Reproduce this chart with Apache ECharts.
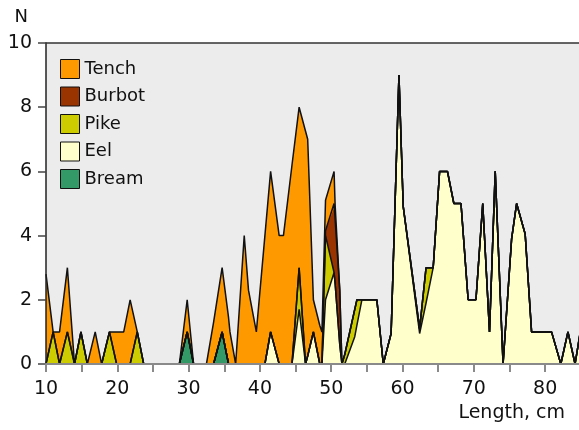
<!DOCTYPE html>
<html>
<head>
<meta charset="utf-8">
<script src="https://cdn.jsdelivr.net/npm/echarts@6/dist/echarts.min.js"></script>
<style>
  html, body { margin: 0; padding: 0; background: #ffffff; }
  #chart { width: 579px; height: 430px; }
</style>
</head>
<body>
<div id="chart"></div>
<script>
// Length classes (cm) shared by every species so the areas stack point by point
const lengths = [10, 11, 11.9, 13, 14, 14.9, 15.8, 16.9, 17.8, 18.9,
  19.9, 20.9, 21.8, 22.8, 23.7, 28.7, 29.8, 30.7, 32.5, 33.5,
  34.7, 35.6, 35.8, 36.6, 37.8, 38.4, 39.5, 40.7, 41.5, 42.7,
  43.3, 44.5, 45.5, 46.4, 46.7, 47.5, 48.4, 48.7, 49.2, 50.4,
  50.55, 51.2, 51.5, 51.9, 53.3, 53.6, 54.3, 56.4, 57.3, 58.4,
  59.5, 60.1, 62.4, 63.3, 64.3, 65.2, 66.3, 67.2, 68.2, 69.2,
  70.3, 71.25, 72.2, 73.0, 74.1, 75.3, 76.0, 77.2, 78.1, 80.9,
  82.2, 83.2, 84.2, 85.0];

// Number of fish (N) per length class, one array per species
const bream = [0, 0, 0, 0, 0, 0, 0, 0, 0, 0,
  0, 0, 0, 0, 0, 0, 1, 0, 0, 0,
  1, 0, 0, 0, 0, 0, 0, 0, 0, 0,
  0, 0, 0, 0, 0, 0, 0, 0, 0, 0,
  0, 0, 0, 0, 0, 0, 0, 0, 0, 0,
  0, 0, 0, 0, 0, 0, 0, 0, 0, 0,
  0, 0, 0, 0, 0, 0, 0, 0, 0, 0,
  0, 0, 0, 0];

const eel = [0, 0, 0, 0, 0, 0, 0, 0, 0, 0,
  0, 0, 0, 0, 0, 0, 0, 0, 0, 0,
  0, 0, 0, 0, 0, 0, 0, 0, 1, 0,
  0, 0, 1.7, 0, 0.25, 1, 0, 0, 2.0, 2.85,
  2.5, 0.6, 0, 0, 0.85, 1.2, 2, 2, 0, 0.95,
  9, 4.9, 0.95, 1.9, 3, 6, 6, 5, 5, 2,
  2, 5, 1, 6, 0, 3.9, 5, 4.05, 1, 1,
  0, 1, 0, 1.1];

const pike = [0, 1, 0, 1, 0, 1, 0, 0, 0, 1,
  0, 0, 0, 1, 0, 0, 0, 0, 0, 0,
  0, 0, 0, 0, 0, 0, 0, 0, 0, 0,
  0, 0, 1.3, 0, 0, 0, 0, 0, 2.0, 0,
  0, 0, 0, 0.3, 0.85, 0.8, 0, 0, 0, 0,
  0, 0, 0.15, 1.1, 0, 0, 0, 0, 0, 0,
  0, 0, 0, 0, 0, 0, 0, 0, 0, 0,
  0, 0, 0, 0];

const burbot = [0, 0, 0, 0, 0, 0, 0, 0, 0, 0,
  0, 0, 0, 0, 0, 0, 0, 0, 0, 0,
  0, 0, 0, 0, 0, 0, 0, 0, 0, 0,
  0, 0, 0, 0, 0, 0, 0, 0, 0.15, 2.15,
  2.45, 1.7, 0, 0, 0, 0, 0, 0, 0, 0,
  0, 0, 0, 0, 0, 0, 0, 0, 0, 0,
  0, 0, 0, 0, 0, 0, 0, 0, 0, 0,
  0, 0, 0, 0];

const tench = [2.8, 0, 1, 2, 0, 0, 0, 1, 0, 0,
  1, 1, 2, 0, 0, 0, 1, 0, 0, 1.3,
  2, 1.45, 1, 0, 4, 2.3, 1, 4, 5, 4,
  4, 6.2, 5, 7.25, 6.75, 1, 1.2, 1, 0.95, 1,
  0, 0, 0, 0, 0, 0, 0, 0, 0, 0,
  0, 0, 0, 0, 0, 0, 0, 0, 0, 0,
  0, 0, 0, 0, 0, 0, 0, 0, 0, 0,
  0, 0, 0, 0];

// Axis tick labels
const xTickLabels = [10, 20, 30, 40, 50, 60, 70, 80];
const yTickLabels = [0, 2, 4, 6, 8, 10];

const FONT = 'DejaVu Sans';
const INK = '#111111';

// Stacking order: bottom layer first
const layers = [
  { name: 'Bream',  values: bream,  fill: '#339966' },
  { name: 'Eel',    values: eel,    fill: '#ffffcc' },
  { name: 'Pike',   values: pike,   fill: '#cccc00' },
  { name: 'Burbot', values: burbot, fill: '#993300' },
  { name: 'Tench',  values: tench,  fill: '#ff9900' }
];

// Each row is [count, length]; the count comes first so it is the stacked dimension
const series = layers.map(function (layer) {
  return {
    name: layer.name,
    type: 'line',
    stack: 'catch',
    xAxisIndex: 0,
    data: lengths.map(function (len, i) { return [layer.values[i], len]; }),
    encode: { x: 1, y: 0 },
    symbol: 'none',
    showSymbol: false,
    itemStyle: { color: layer.fill },
    lineStyle: { color: INK, width: 1.5 },
    areaStyle: { color: layer.fill, opacity: 1 },
    emphasis: { disabled: true },
    silent: true
  };
});

const chart = echarts.init(document.getElementById('chart'), null, { renderer: 'canvas' });

chart.setOption({
  animation: false,
  backgroundColor: '#ffffff',
  grid: {
    left: 46, right: 0, top: 43, bottom: 66,
    show: true, backgroundColor: '#ececec', borderWidth: 0
  },
  legend: {
    data: ['Tench', 'Burbot', 'Pike', 'Eel', 'Bream'],
    orient: 'vertical',
    left: 55, top: 54,
    icon: 'rect',
    itemWidth: 19, itemHeight: 19, itemGap: 7.5,
    itemStyle: { borderColor: INK, borderWidth: 1 },
    textStyle: { fontFamily: FONT, fontSize: 18, color: INK },
    selectedMode: false
  },
  xAxis: [{
    type: 'value',
    min: 10, max: 84.75, interval: 5,
    zlevel: 1,
    axisLine: { show: true, lineStyle: { color: '#8a8a8a', width: 2 } },
    axisTick: { show: true, length: 8, lineStyle: { color: '#8a8a8a', width: 2 } },
    axisLabel: {
      fontFamily: FONT, fontSize: 19, color: INK, margin: 16,
      showMaxLabel: false,
      formatter: function (v) { return xTickLabels.indexOf(v) >= 0 ? String(v) : ''; }
    },
    splitLine: { show: false },
    name: 'Length, cm',
    nameLocation: 'end',
    nameGap: -14,
    nameTextStyle: {
      fontFamily: FONT, fontSize: 19, color: INK,
      align: 'right', verticalAlign: 'top', padding: [40, 0, 0, 0]
    }
  }, {
    type: 'value',
    position: 'top',
    min: 10, max: 84.75,
    z: 5,
    axisLine: { show: true, lineStyle: { color: '#333333', width: 1.5 } },
    axisTick: { show: false },
    axisLabel: { show: false },
    splitLine: { show: false }
  }],
  yAxis: {
    type: 'value',
    min: 0, max: 10, interval: 2,
    z: 5,
    axisLine: { show: true, lineStyle: { color: '#222222', width: 1.5 } },
    axisTick: { show: true, length: 8, lineStyle: { color: '#444444', width: 1.5 } },
    axisLabel: {
      fontFamily: FONT, fontSize: 19, color: INK, margin: 14,
      formatter: function (v) { return yTickLabels.indexOf(v) >= 0 ? String(v) : ''; }
    },
    splitLine: { show: false },
    name: 'N',
    nameLocation: 'end',
    nameGap: 17,
    nameTextStyle: {
      fontFamily: FONT, fontSize: 18, color: INK,
      align: 'right', padding: [0, 18, 0, 0]
    }
  },
  series: series
});
</script>
</body>
</html>
